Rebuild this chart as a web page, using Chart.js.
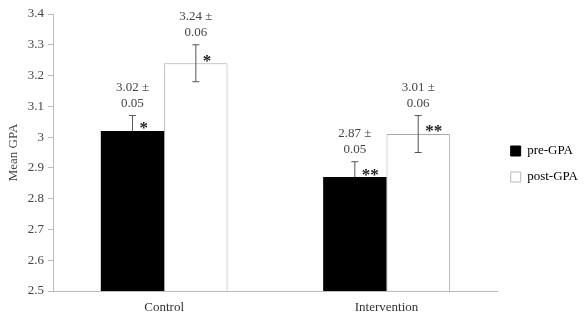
<!DOCTYPE html>
<html>
<head>
<meta charset="utf-8">
<script src="https://cdn.jsdelivr.net/npm/chart.js@4"></script>
<style>
  html, body { margin: 0; padding: 0; background: #fff; }
  #wrap { position: relative; width: 588px; height: 314px; }
</style>
</head>
<body>
<div id="wrap"><canvas id="gpaChart"></canvas></div>
<script>
const groups = ['Control', 'Intervention'];
const preGPA = [3.02, 2.87];
const postGPA = [3.24, 3.01];
const preSD = [0.05, 0.05];
const postSD = [0.06, 0.06];
const sigMarks = ['*', '**'];
const yTicks = [2.5, 2.6, 2.7, 2.8, 2.9, 3, 3.1, 3.2, 3.3, 3.4];

const serif = "'Liberation Serif', 'Times New Roman', serif";

// error bars, "mean ± sd" labels and significance stars
const errorBarPlugin = {
    id: 'errorBars',
    afterDatasetsDraw(chart) {
        const ctx = chart.ctx;
        const y = chart.scales.y;
        const sds = [preSD, postSD];
        chart.data.datasets.forEach((ds, i) => {
            const meta = chart.getDatasetMeta(i);
            meta.data.forEach((bar, j) => {
                const val = ds.data[j];
                const sd = sds[i][j];
                const top = y.getPixelForValue(val + sd);
                const bot = y.getPixelForValue(val - sd);
                const end = i === 0 ? bar.y : bot;
                ctx.save();
                ctx.strokeStyle = '#555';
                ctx.lineWidth = 1;
                ctx.beginPath();
                ctx.moveTo(bar.x, top);
                ctx.lineTo(bar.x, end);
                ctx.moveTo(bar.x - 3.5, top);
                ctx.lineTo(bar.x + 3.5, top);
                if (i === 1) {
                    ctx.moveTo(bar.x - 3.5, bot);
                    ctx.lineTo(bar.x + 3.5, bot);
                }
                ctx.stroke();

                ctx.fillStyle = '#444';
                ctx.font = '13px ' + serif;
                ctx.textAlign = 'center';
                ctx.textBaseline = 'middle';
                ctx.fillText(val.toFixed(2) + ' \u00b1', bar.x, top - 28);
                ctx.fillText(sd.toFixed(2), bar.x, top - 12);

                ctx.fillStyle = '#222';
                ctx.font = 'bold 17px ' + serif;
                ctx.textAlign = 'left';
                ctx.fillText(sigMarks[j], bar.x + 7, bar.y - 2);
                ctx.restore();
            });
        });
    }
};

new Chart(document.getElementById('gpaChart').getContext('2d'), {
    type: 'bar',
    data: {
        labels: groups,
        datasets: [{
            label: 'pre-GPA',
            data: preGPA,
            backgroundColor: '#000',
            borderColor: '#000',
            borderWidth: 0
        }, {
            label: 'post-GPA',
            data: postGPA,
            backgroundColor: '#fff',
            borderColor: '#aaa',
            borderWidth: { top: 1, left: 1, right: 1, bottom: 0 },
            borderSkipped: 'bottom'
        }]
    },
    options: {
        responsive: true,
        maintainAspectRatio: false,
        animation: false,
        layout: { padding: { top: 14, right: 0, left: 2, bottom: 0 } },
        datasets: { bar: { barPercentage: 1, categoryPercentage: 0.57 } },
        plugins: {
            legend: {
                position: 'right',
                labels: {
                    boxWidth: 10,
                    boxHeight: 10,
                    padding: 13,
                    color: '#333',
                    font: { family: serif, size: 13 },
                    generateLabels(chart) {
                        return chart.data.datasets.map((ds, i) => ({
                            text: ds.label,
                            fillStyle: ds.backgroundColor,
                            strokeStyle: i === 0 ? '#000' : '#bbb',
                            lineWidth: 1,
                            datasetIndex: i
                        }));
                    }
                }
            },
            tooltip: { enabled: false }
        },
        scales: {
            x: {
                grid: { display: false, drawTicks: false },
                border: { color: '#bbb' },
                ticks: { color: '#333', font: { family: serif, size: 13 }, padding: 9 },
                afterFit(axis) { axis.height = 23; }
            },
            y: {
                min: 2.5,
                max: 3.4,
                afterBuildTicks(axis) { axis.ticks = yTicks.map(v => ({ value: v })); },
                grid: { drawOnChartArea: false, tickLength: 5, color: '#bbb' },
                border: { color: '#bbb' },
                ticks: {
                    color: '#444',
                    font: { family: serif, size: 13 },
                    padding: 4,
                    callback: v => String(Math.round(v * 10) / 10)
                },
                title: { display: true, text: 'Mean GPA', color: '#444', font: { family: serif, size: 13 }, padding: { top: 4, bottom: 2 } },
                afterFit(axis) { axis.width = 51; }
            }
        }
    },
    plugins: [errorBarPlugin]
});
</script>
</body>
</html>
